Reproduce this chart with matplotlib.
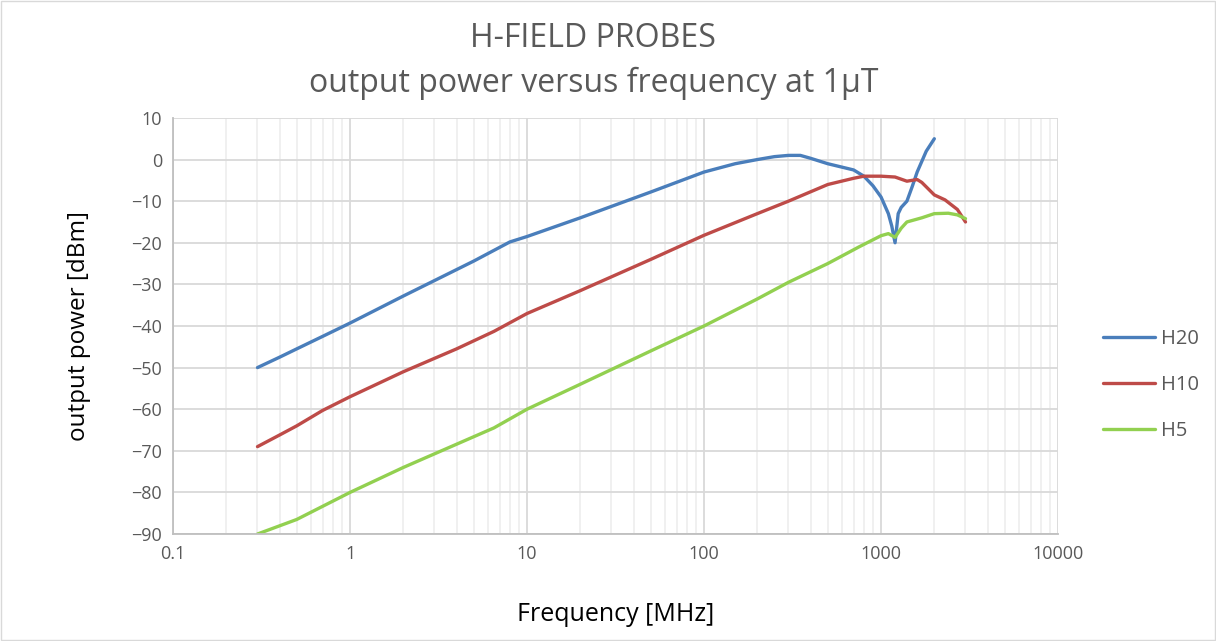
import numpy as np
import matplotlib.pyplot as plt
from matplotlib.patches import Rectangle
from matplotlib.ticker import FixedLocator, LogLocator, NullFormatter

plt.rcParams['font.family'] = ['Open Sans', 'DejaVu Sans']

# H20 probe
f_h20 = [0.3, 0.4, 0.5, 0.7, 1, 2, 5, 8, 10, 20, 50, 100, 150, 200, 250, 300, 350, 400, 500, 700,
         800, 900, 1000, 1100, 1150, 1200, 1250, 1300, 1400, 1500, 1600, 1800, 2000]
p_h20 = [-50, -47.5, -45.5, -42.5, -39.3, -32.8, -24.4, -19.8, -18.5, -14, -7.8, -3, -1, 0, 0.7, 1, 1, 0.3, -1, -2.5,
         -4, -6.3, -9, -13, -16, -20, -13, -11.5, -10, -6.5, -3, 2, 5]

# H10 probe
f_h10 = [0.3, 0.4, 0.5, 0.7, 1, 2, 4, 6.5, 10, 20, 50, 100, 200, 300, 500, 700, 800,
         1000, 1200, 1400, 1600, 1700, 2000, 2300, 2700, 3000]
p_h10 = [-69, -66.2, -64, -60.3, -57, -51, -45.5, -41.3, -37, -31.5, -24, -18.2, -13, -10, -6, -4.5, -4,
         -4, -4.2, -5.2, -4.8, -5.5, -8.5, -9.7, -12, -15]

# H5 probe
f_h5 = [0.3, 0.5, 1, 2, 6.5, 10, 20, 50, 100, 200, 300, 500, 750, 1000, 1100,
        1200, 1300, 1400, 1700, 2000, 2400, 2700, 3000]
p_h5 = [-90, -86.5, -80, -74, -64.5, -60, -54, -46, -40, -33.5, -29.5, -25, -21, -18.3, -17.8,
        -18.7, -16.5, -15, -14, -13, -12.9, -13.3, -14.2]

x_ticks = [0.1, 1, 10, 100, 1000, 10000]
x_labels = ['0.1', '1', '10', '100', '1000', '10000']
y_ticks = list(range(-90, 11, 10))

fig = plt.figure(figsize=(12.16, 6.41), dpi=100)
ax = fig.add_axes([0.1423, 0.1669, 0.7278, 0.6491])

ax.plot(f_h20, p_h20, color='#4A7EBB', lw=2.4, label='H20', solid_capstyle='round')
ax.plot(f_h10, p_h10, color='#BE4B48', lw=2.4, label='H10', solid_capstyle='round')
ax.plot(f_h5, p_h5, color='#92D050', lw=2.4, label='H5', solid_capstyle='round')

ax.set_xscale('log')
ax.set_xlim(0.1, 10000)
ax.set_ylim(-90, 10)
ax.xaxis.set_major_locator(FixedLocator(x_ticks))
ax.set_xticklabels(x_labels)
ax.xaxis.set_minor_locator(LogLocator(base=10, subs=np.arange(2, 10)))
ax.xaxis.set_minor_formatter(NullFormatter())
ax.set_yticks(y_ticks)

ax.grid(which='major', color='#D9D9D9', lw=1.3)
ax.grid(which='minor', axis='x', color='#EFEFEF', lw=1.3)
ax.set_axisbelow(True)
for s in ['top', 'right']:
    ax.spines[s].set_visible(False)
for s in ['left', 'bottom']:
    ax.spines[s].set_color('#BFBFBF')
    ax.spines[s].set_linewidth(1.3)
ax.tick_params(which='both', length=0, labelsize=13, colors='#595959', pad=8)

ax.set_xlabel('Frequency [MHz]', fontsize=18, color='black', labelpad=28)
ax.set_ylabel('output power [dBm]', fontsize=17.5, color='black', labelpad=29)

fig.text(0.488, 0.94, 'H-FIELD PROBES', ha='center', va='center', fontsize=23, color='#595959')
fig.text(0.488, 0.87, 'output power versus frequency at 1\u00b5T', ha='center', va='center',
         fontsize=23, color='#595959')

ax.legend(loc='center left', bbox_to_anchor=(1.03, 0.358), frameon=False, fontsize=14.5,
          labelcolor='#595959', handlelength=2.6, labelspacing=1.3, handletextpad=0.3)

fig.patches.append(Rectangle((0.001, 0.001), 0.998, 0.997, transform=fig.transFigure,
                             fill=False, edgecolor='#D9D9D9', lw=1))

fig.savefig('out.png', dpi=100)
